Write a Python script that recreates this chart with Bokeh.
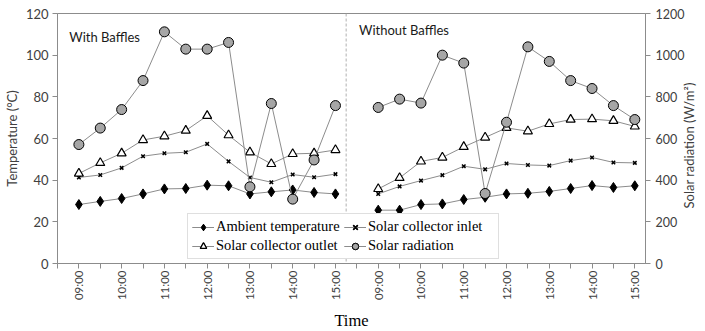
import math
from bokeh.plotting import figure
from bokeh.models import (Range1d, LinearAxis, FixedTicker, Legend, LegendItem,
                          Span, Label)
from bokeh.embed import file_html
from bokeh.resources import INLINE

# ---------------- data ----------------
times = ["09:00", "09:30", "10:00", "10:30", "11:00", "11:30", "12:00",
         "12:30", "13:00", "13:30", "14:00", "14:30", "15:00"]

# With baffles
wb_ambient = [28.3, 29.8, 31.2, 33.4, 35.8, 36.0, 37.6, 37.3, 33.4, 34.4, 35.3, 34.1, 33.4]
wb_inlet = [41.3, 42.5, 45.9, 51.5, 52.9, 53.4, 57.4, 49.0, 41.3, 39.0, 42.7, 41.4, 42.9]
wb_outlet = [43.2, 48.3, 52.9, 59.3, 61.1, 63.8, 70.9, 61.6, 53.4, 47.8, 52.6, 52.9, 54.5]
wb_radiation = [571, 650, 739, 878, 1112, 1029, 1029, 1061, 368, 768, 309, 497, 758]

# Without baffles
nb_ambient = [25.6, 25.6, 28.3, 28.6, 30.7, 31.8, 33.4, 33.7, 34.6, 36.0, 37.4, 36.5, 37.3]
nb_inlet = [33.4, 37.0, 39.8, 42.4, 46.7, 45.2, 48.0, 47.3, 47.0, 49.4, 50.9, 48.5, 48.3]
nb_outlet = [35.8, 41.1, 49.0, 50.9, 56.0, 60.5, 65.1, 63.5, 67.0, 69.1, 69.3, 68.5, 65.8]
nb_radiation = [749, 789, 770, 1000, 962, 336, 678, 1040, 970, 878, 840, 758, 691]

panel_titles = ["With Baffles", "Without Baffles"]
# legend order (filled column by column -> rows: Ambient/Inlet, Outlet/Radiation)
legend_order = ["Ambient temperature", "Solar collector outlet",
                "Solar collector inlet", "Solar radiation"]
right_title = "Solar radiation (W/m²)"

# category positions: left panel at 1..13, empty slot at 14, right panel 15..27
n = len(times)
x_left = [i + 1 for i in range(n)]
x_right = [i + n + 2 for i in range(n)]

LINE = "#8c8c8c"
AX = "#8c8c8c"
TXT = "#404040"
SANS = "Lato"
SERIF = "Liberation Serif"

FW, FH = 588, 250
p = figure(frame_width=FW, frame_height=FH,
           x_range=Range1d(0, 27.5), y_range=Range1d(0, 120),
           output_backend="svg", toolbar_location=None,
           min_border_left=48, min_border_right=10, min_border_top=13,
           min_border_bottom=62)
p.extra_y_ranges = {"rad": Range1d(0, 1200)}

p.xgrid.visible = False
p.ygrid.visible = False
p.outline_line_color = AX
p.outline_line_width = 1
p.background_fill_color = "white"
p.border_fill_color = "white"

# x axis
xa = p.xaxis[0]
all_ticks = list(range(0, 28))
xa.ticker = FixedTicker(ticks=all_ticks)
overrides = {t: "" for t in all_ticks}
for xs in (x_left, x_right):
    for i, t in enumerate(times):
        if i % 2 == 0:
            overrides[xs[i]] = t
xa.major_label_overrides = overrides
xa.major_label_orientation = math.pi / 2
xa.minor_tick_line_color = None
xa.major_tick_in = 0
xa.major_tick_out = 5
xa.axis_line_color = AX
xa.major_tick_line_color = AX
xa.major_label_text_font = SANS
xa.major_label_text_font_size = "11.5px"
xa.major_label_text_color = TXT
xa.major_label_standoff = 2
xa.axis_label = "Time"
xa.axis_label_text_font = SERIF
xa.axis_label_text_font_style = "normal"
xa.axis_label_text_font_size = "16.5px"
xa.axis_label_text_color = "#000000"
xa.axis_label_standoff = 8

# left y axis
ya = p.yaxis[0]
ya.ticker = FixedTicker(ticks=[0, 20, 40, 60, 80, 100, 120])
ya.minor_tick_line_color = None
ya.major_tick_in = 0
ya.major_tick_out = 5
ya.axis_line_color = AX
ya.major_tick_line_color = AX
ya.major_label_text_font = SANS
ya.major_label_text_font_size = "13px"
ya.major_label_text_color = TXT
ya.major_label_standoff = 4
ya.axis_label = "Temperature (°C)"
ya.axis_label_text_font = SANS
ya.axis_label_text_font_style = "normal"
ya.axis_label_text_font_size = "13px"
ya.axis_label_text_color = TXT
ya.axis_label_standoff = 3

# right y axis (ticks and numbers)
yr = LinearAxis(y_range_name="rad", ticker=FixedTicker(ticks=[0, 200, 400, 600, 800, 1000, 1200]))
yr.minor_tick_line_color = None
yr.major_tick_in = 0
yr.major_tick_out = 5
yr.axis_line_color = AX
yr.major_tick_line_color = AX
yr.major_label_text_font = SANS
yr.major_label_text_font_size = "12.5px"
yr.major_label_text_color = TXT
yr.major_label_standoff = 5
p.add_layout(yr, "right")

# right axis title: a bare outer axis whose single rotated tick label reads
# bottom-to-top, starting at the lower end of the title
title_start = 264
yt = LinearAxis(y_range_name="rad", ticker=FixedTicker(ticks=[title_start]))
yt.major_label_overrides = {title_start: right_title}
yt.major_label_orientation = math.pi / 2
yt.axis_line_color = None
yt.major_tick_line_color = None
yt.minor_tick_line_color = None
yt.major_tick_in = 0
yt.major_tick_out = 0
yt.major_label_standoff = 1
yt.major_label_text_font = SANS
yt.major_label_text_font_size = "13px"
yt.major_label_text_color = TXT
p.add_layout(yt, "right")

# separator
p.add_layout(Span(location=13.5, dimension="height", line_color="#b0b0b0",
                  line_dash="3 2", line_width=1))

items = {name: [] for name in legend_order}

panels = [
    (x_left, wb_ambient, wb_inlet, wb_outlet, wb_radiation),
    (x_right, nb_ambient, nb_inlet, nb_outlet, nb_radiation),
]
for xs, amb, inl, outl, rad in panels:
    r1 = p.line(xs, amb, line_color=LINE, line_width=1)
    r2 = p.scatter(xs, amb, marker="diamond", size=10, fill_color="black", line_color="black")
    items["Ambient temperature"] += [r1, r2]

    r1 = p.line(xs, inl, line_color=LINE, line_width=1)
    r2 = p.scatter(xs, inl, marker="x", size=5, line_color="black", line_width=1.5)
    items["Solar collector inlet"] += [r1, r2]

    r1 = p.line(xs, outl, line_color=LINE, line_width=1)
    r2 = p.scatter(xs, outl, marker="triangle", size=9, fill_color="white", line_color="black", line_width=1.2)
    items["Solar collector outlet"] += [r1, r2]

    r1 = p.line(xs, rad, line_color=LINE, line_width=1, y_range_name="rad")
    r2 = p.scatter(xs, rad, marker="circle", size=10, fill_color="#a6a6a6", line_color="black",
                   line_width=1, y_range_name="rad")
    items["Solar radiation"] += [r1, r2]

legend = Legend(items=[LegendItem(label=name, renderers=items[name]) for name in legend_order],
                ncols=2, location=(130, 4))
legend.label_text_font = SERIF
legend.label_text_font_size = "14.5px"
legend.label_text_color = "#000000"
legend.glyph_width = 22
legend.glyph_height = 16
legend.label_height = 16
legend.label_width = 126
legend.label_standoff = 2
legend.spacing = 2
legend.padding = 4
legend.margin = 0
legend.border_line_color = "#c0c0c0"
legend.border_line_width = 1
legend.background_fill_color = "white"
legend.background_fill_alpha = 1
p.add_layout(legend, "center")

# panel titles
p.add_layout(Label(x=0.55, y=108.5, text=panel_titles[0], text_font=SANS,
                   text_font_size="13px", text_color="#1a1a1a", text_baseline="middle"))
p.add_layout(Label(x=14.1, y=111.9, text=panel_titles[1], text_font=SANS,
                   text_font_size="13px", text_color="#1a1a1a", text_baseline="middle"))

open("out.html", "w").write(file_html(p, INLINE))
